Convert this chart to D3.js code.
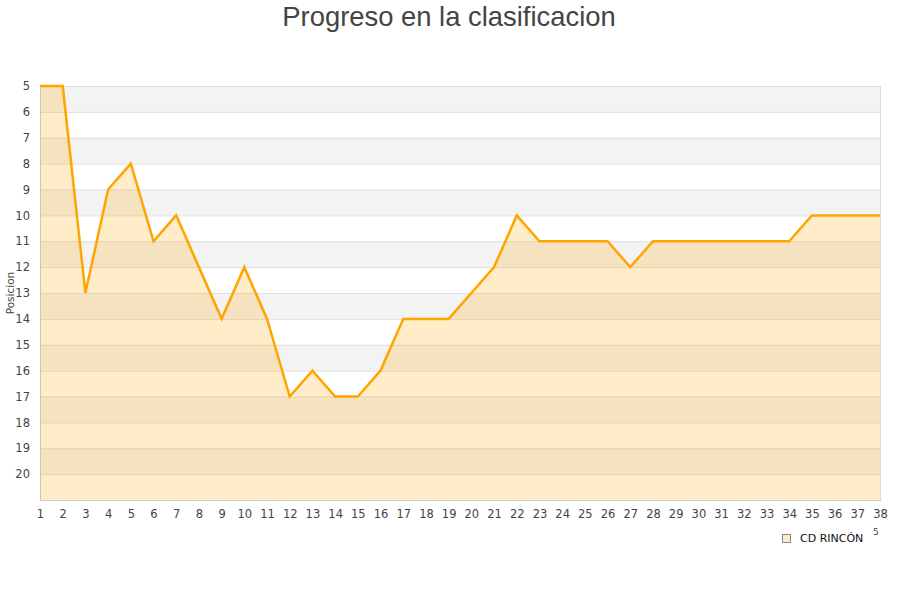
<!DOCTYPE html>
<html>
<head>
<meta charset="utf-8">
<script src="https://cdn.jsdelivr.net/npm/d3@7"></script>
<style>
body{margin:0;background:#fff;}
svg{display:block;}
</style>
</head>
<body>
<svg id="chart" width="900" height="600"></svg>
<script>
const title = "Progreso en la clasificacion";
const yTitle = "Posicion";
const seriesName = "CD RINCÓN";
const jornadas = d3.range(1, 39);
const posiciones = [5,5,13,9,8,11,10,12,14,12,14,17,16,17,17,16,14,14,14,13,12,10,11,11,11,11,12,11,11,11,11,11,11,11,10,10,10,10];
const yTicks = d3.range(5, 21);

const svg = d3.select("#chart");
const m = {left: 40, right: 20, top: 86, bottom: 100};
const W = 900, H = 600;
const x = d3.scaleLinear().domain([1, 38]).range([m.left, W - m.right]);
const y = d3.scaleLinear().domain([5, 21]).range([m.top, H - m.bottom]);

svg.append("text").attr("x", 449).attr("y", 26).attr("text-anchor", "middle")
  .attr("font-family", "Liberation Sans, Arial, sans-serif").attr("font-size", 27.4)
  .attr("fill", "#444").text(title);

// bands
const bands = d3.range(5, 21);
svg.append("g").selectAll("rect").data(bands).join("rect")
  .attr("x", x(1)).attr("width", x(38) - x(1))
  .attr("y", d => y(d)).attr("height", d => y(d + 1) - y(d))
  .attr("fill", d => (d % 2 === 1) ? "#f3f3f3" : "#ffffff");

// grid
svg.append("g").selectAll("line").data(d3.range(5, 22)).join("line")
  .attr("x1", x(1)).attr("x2", x(38))
  .attr("y1", d => y(d) + 0.5).attr("y2", d => y(d) + 0.5)
  .attr("stroke", "#dedede").attr("stroke-width", 1);

// borders
svg.append("line").attr("x1", x(1) + 0.5).attr("x2", x(1) + 0.5).attr("y1", y(5)).attr("y2", y(21))
  .attr("stroke", "#cccccc");
svg.append("line").attr("x1", x(38) + 0.5).attr("x2", x(38) + 0.5).attr("y1", y(5)).attr("y2", y(21))
  .attr("stroke", "#dddddd");
svg.append("line").attr("x1", x(1)).attr("x2", x(38) + 1).attr("y1", y(21) + 0.5).attr("y2", y(21) + 0.5)
  .attr("stroke", "#cccccc");

const data = jornadas.map((j, i) => ({j, p: posiciones[i]}));

svg.append("path").datum(data)
  .attr("d", d3.area().x(d => x(d.j)).y0(y(21)).y1(d => y(d.p)))
  .attr("fill", "rgba(255,165,0,0.21)");

svg.append("path").datum(data)
  .attr("d", d3.line().x(d => x(d.j)).y(d => y(d.p)))
  .attr("fill", "none").attr("stroke", "#FFA500").attr("stroke-width", 2.5)
  .attr("stroke-linejoin", "miter");

// y axis labels
const yAxis = d3.axisLeft(y).tickValues(yTicks).tickSize(0).tickPadding(10);
const gy = svg.append("g").attr("transform", `translate(${x(1)},0)`).call(yAxis);
gy.select(".domain").remove();
gy.selectAll("text").attr("font-family", "DejaVu Sans, sans-serif").attr("font-size", 11.5)
  .attr("fill", "#444").attr("dy", "0.32em");

// x axis labels
const xAxis = d3.axisBottom(x).tickValues(jornadas).tickSize(0).tickPadding(10).tickFormat(d3.format("d"));
const gx = svg.append("g").attr("transform", `translate(0,${y(21)})`).call(xAxis);
gx.select(".domain").remove();
gx.selectAll("text").attr("font-family", "DejaVu Sans, sans-serif").attr("font-size", 11.5)
  .attr("fill", "#444");

svg.append("text").attr("transform", "translate(14,293) rotate(-90)").attr("text-anchor", "middle")
  .attr("font-family", "DejaVu Sans, sans-serif").attr("font-size", 10.5).attr("fill", "#444")
  .text(yTitle);

// legend
const lg = svg.append("g");
lg.append("rect").attr("x", 782.5).attr("y", 534.5).attr("width", 8).attr("height", 8)
  .attr("fill", "#fde9c5").attr("stroke", "#888").attr("stroke-width", 1);
lg.append("text").attr("x", 800).attr("y", 542).attr("font-family", "DejaVu Sans, sans-serif")
  .attr("font-size", 11).attr("fill", "#111").text(seriesName);
lg.append("text").attr("x", 873).attr("y", 535).attr("font-family", "DejaVu Sans, sans-serif")
  .attr("font-size", 9).attr("fill", "#444").text("5");
</script>
</body>
</html>
